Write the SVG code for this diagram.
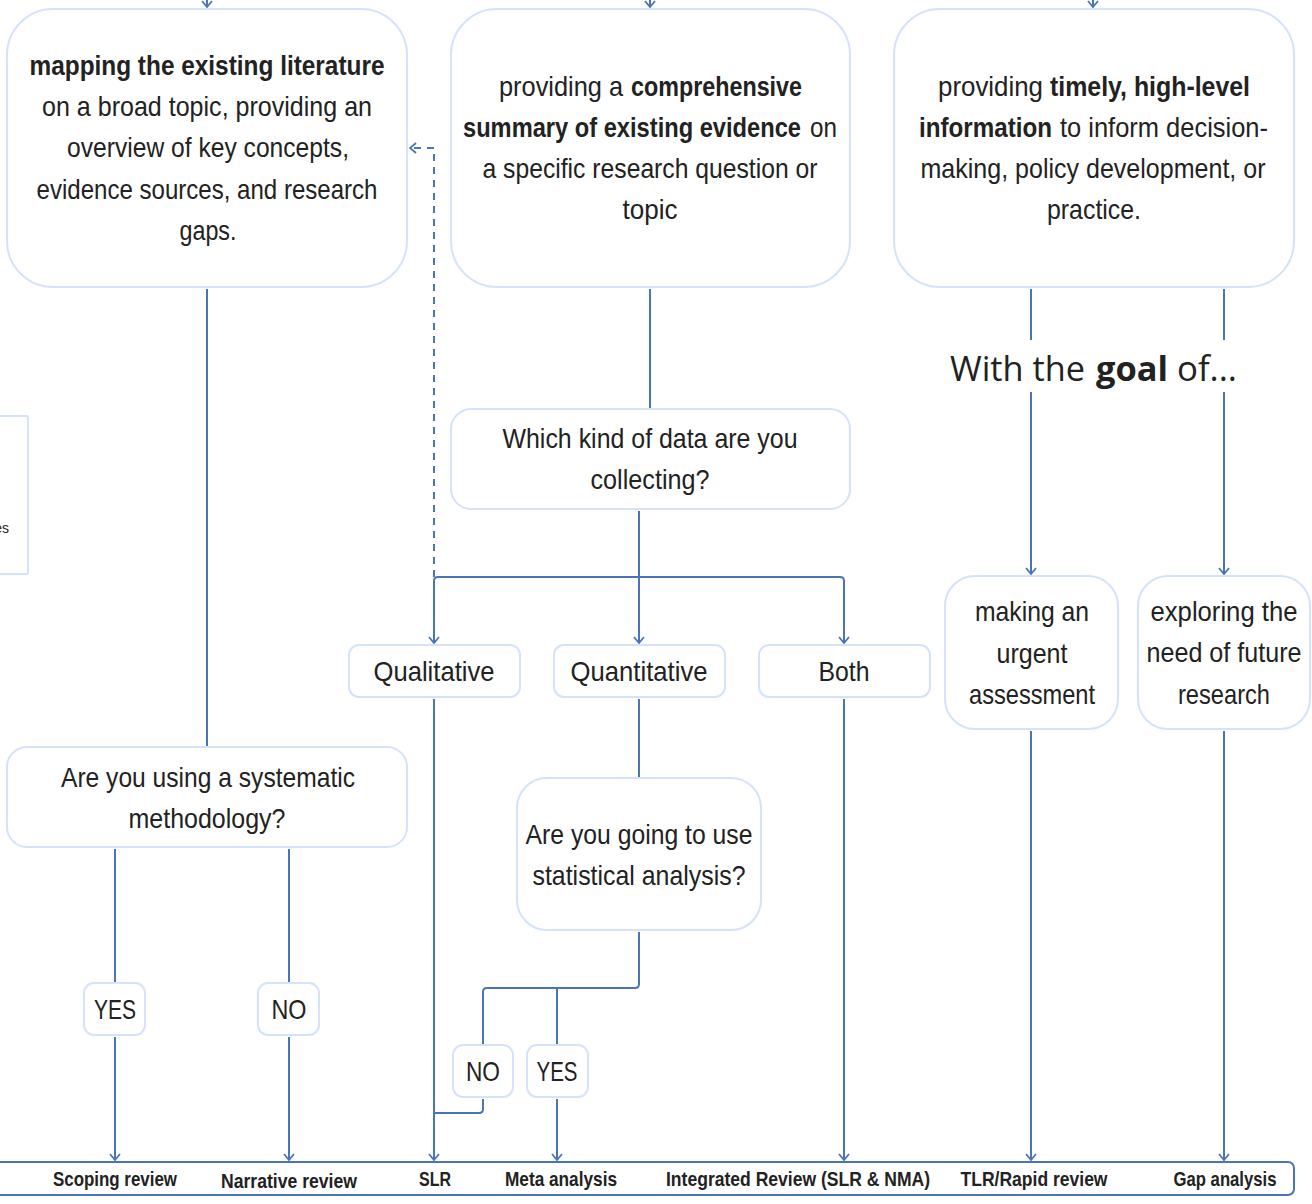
<svg xmlns="http://www.w3.org/2000/svg" width="1312" height="1204" viewBox="0 0 1312 1204">
<style>
.n{fill:#fff;stroke:#d5e2fb;stroke-width:2}
.t{font-family:"Liberation Sans",Arial,sans-serif;font-size:28px;fill:#222;text-anchor:middle}
.s{text-anchor:start}
.b{font-weight:bold}
.g{font-family:"Open Sans",sans-serif;font-size:34px;fill:#222}
.lb{font-family:"Liberation Sans",Arial,sans-serif;font-size:21px;font-weight:bold;fill:#222;text-anchor:middle}
.c{fill:none;stroke:#4a73b8;stroke-width:2}
.d{stroke-dasharray:7 6}
</style>
<defs>
<marker id="ar" viewBox="0 0 10 12" refX="9" refY="6" markerWidth="10" markerHeight="12" markerUnits="userSpaceOnUse" orient="auto">
<path d="M3,1 L9,6 L3,11" fill="none" stroke="#4a73b8" stroke-width="1.8"/>
</marker>
</defs>
<rect width="1312" height="1204" fill="#fff"/>
<g id="connectors">
<path class="c" d="M207,-5 V7" marker-end="url(#ar)"/>
<path class="c" d="M650,-5 V7" marker-end="url(#ar)"/>
<path class="c" d="M1093,-5 V7" marker-end="url(#ar)"/>
<path class="c" d="M207,289 V746"/>
<path class="c" d="M650,289 V408"/>
<path class="c" d="M1031,289 V340"/>
<path class="c" d="M1031,392 V574" marker-end="url(#ar)"/>
<path class="c" d="M1224,289 V340"/>
<path class="c" d="M1224,392 V574" marker-end="url(#ar)"/>
<path class="c" d="M639,511 V643" marker-end="url(#ar)"/>
<path class="c" d="M639,577 H438 Q434,577 434,581 V643" marker-end="url(#ar)"/>
<path class="c" d="M639,577 H840 Q844,577 844,581 V643" marker-end="url(#ar)"/>
<path class="c d" d="M434,577 V148 H410" marker-end="url(#ar)"/>
<path class="c" d="M434,699 V1160" marker-end="url(#ar)"/>
<path class="c" d="M639,699 V777"/>
<path class="c" d="M844,699 V1160" marker-end="url(#ar)"/>
<path class="c" d="M639,932 V984 Q639,988 635,988 H487 Q483,988 483,992 V1044"/>
<path class="c" d="M557,988 V1044"/>
<path class="c" d="M483,1099 V1109 Q483,1113 479,1113 H434"/>
<path class="c" d="M557,1099 V1160" marker-end="url(#ar)"/>
<path class="c" d="M115,849 V982"/>
<path class="c" d="M289,849 V982"/>
<path class="c" d="M115,1037 V1160" marker-end="url(#ar)"/>
<path class="c" d="M289,1037 V1160" marker-end="url(#ar)"/>
<path class="c" d="M1031,731 V1160" marker-end="url(#ar)"/>
<path class="c" d="M1224,731 V1160" marker-end="url(#ar)"/>
</g>
<g id="node-mapping">
<rect class="n" x="7" y="9" width="400" height="278" rx="46"/>
<text class="t b" x="207" y="75" textLength="355" lengthAdjust="spacingAndGlyphs">mapping the existing literature</text>
<text class="t" x="207" y="116" textLength="330" lengthAdjust="spacingAndGlyphs">on a broad topic, providing an</text>
<text class="t" x="208" y="157" textLength="282" lengthAdjust="spacingAndGlyphs">overview of key concepts,</text>
<text class="t" x="207" y="199" textLength="341" lengthAdjust="spacingAndGlyphs">evidence sources, and research</text>
<text class="t" x="208" y="240" textLength="57" lengthAdjust="spacingAndGlyphs">gaps.</text>
</g>
<g id="node-comprehensive">
<rect class="n" x="451" y="9" width="399" height="278" rx="46"/>
<text class="t s" x="499" y="96" textLength="124" lengthAdjust="spacingAndGlyphs">providing a</text>
<text class="t s b" x="631" y="96" textLength="171" lengthAdjust="spacingAndGlyphs">comprehensive</text>
<text class="t s b" x="463" y="137" textLength="338" lengthAdjust="spacingAndGlyphs">summary of existing evidence</text>
<text class="t s" x="810" y="137" textLength="27" lengthAdjust="spacingAndGlyphs">on</text>
<text class="t" x="650" y="178" textLength="335" lengthAdjust="spacingAndGlyphs">a specific research question or</text>
<text class="t" x="650" y="219" textLength="55" lengthAdjust="spacingAndGlyphs">topic</text>
</g>
<g id="node-timely">
<rect class="n" x="894" y="9" width="400" height="278" rx="46"/>
<text class="t s" x="938" y="96" textLength="105" lengthAdjust="spacingAndGlyphs">providing</text>
<text class="t s b" x="1050" y="96" textLength="200" lengthAdjust="spacingAndGlyphs">timely, high-level</text>
<text class="t s b" x="919" y="137" textLength="133" lengthAdjust="spacingAndGlyphs">information</text>
<text class="t s" x="1060" y="137" textLength="208" lengthAdjust="spacingAndGlyphs">to inform decision-</text>
<text class="t" x="1093" y="178" textLength="345" lengthAdjust="spacingAndGlyphs">making, policy development, or</text>
<text class="t" x="1094" y="219" textLength="94" lengthAdjust="spacingAndGlyphs">practice.</text>
</g>
<g id="node-partial">
<rect class="n" x="-220" y="416" width="248" height="158" rx="2"/>
<text x="9" y="533" style="font-family:'Liberation Sans',sans-serif;font-size:14px;fill:#222;text-anchor:end">es</text>
</g>
<g id="label-goal">
<text class="g" x="950" y="381" textLength="135" lengthAdjust="spacingAndGlyphs">With the</text>
<text class="g b" x="1096" y="381" textLength="72" lengthAdjust="spacingAndGlyphs">goal</text>
<text class="g" x="1177" y="381" textLength="60" lengthAdjust="spacingAndGlyphs">of...</text>
</g>
<g id="node-datakind">
<rect class="n" x="451" y="409" width="399" height="100" rx="20"/>
<text class="t" x="650" y="448" textLength="295" lengthAdjust="spacingAndGlyphs">Which kind of data are you</text>
<text class="t" x="650" y="489" textLength="119" lengthAdjust="spacingAndGlyphs">collecting?</text>
</g>
<g id="node-qualitative">
<rect class="n" x="349" y="645" width="171" height="52" rx="10"/>
<text class="t" x="434" y="681" textLength="121" lengthAdjust="spacingAndGlyphs">Qualitative</text>
</g>
<g id="node-quantitative">
<rect class="n" x="554" y="645" width="171" height="52" rx="10"/>
<text class="t" x="639" y="681" textLength="137" lengthAdjust="spacingAndGlyphs">Quantitative</text>
</g>
<g id="node-both">
<rect class="n" x="759" y="645" width="171" height="52" rx="10"/>
<text class="t" x="844" y="681" textLength="51" lengthAdjust="spacingAndGlyphs">Both</text>
</g>
<g id="node-systematic">
<rect class="n" x="7" y="747" width="400" height="100" rx="20"/>
<text class="t" x="208" y="787" textLength="294" lengthAdjust="spacingAndGlyphs">Are you using a systematic</text>
<text class="t" x="207" y="828" textLength="157" lengthAdjust="spacingAndGlyphs">methodology?</text>
</g>
<g id="node-statistical">
<rect class="n" x="517" y="778" width="244" height="152" rx="30"/>
<text class="t" x="639" y="844" textLength="227" lengthAdjust="spacingAndGlyphs">Are you going to use</text>
<text class="t" x="639" y="885" textLength="213" lengthAdjust="spacingAndGlyphs">statistical analysis?</text>
</g>
<g id="node-yes1">
<rect class="n" x="84" y="983" width="61" height="52" rx="10"/>
<text class="t" x="115" y="1019" textLength="42" lengthAdjust="spacingAndGlyphs">YES</text>
</g>
<g id="node-no1">
<rect class="n" x="258" y="983" width="61" height="52" rx="10"/>
<text class="t" x="289" y="1019" textLength="35" lengthAdjust="spacingAndGlyphs">NO</text>
</g>
<g id="node-no2">
<rect class="n" x="453" y="1045" width="60" height="52" rx="10"/>
<text class="t" x="483" y="1081" textLength="34" lengthAdjust="spacingAndGlyphs">NO</text>
</g>
<g id="node-yes2">
<rect class="n" x="527" y="1045" width="61" height="52" rx="10"/>
<text class="t" x="557" y="1081" textLength="41" lengthAdjust="spacingAndGlyphs">YES</text>
</g>
<g id="node-urgent">
<rect class="n" x="945" y="576" width="173" height="153" rx="30"/>
<text class="t" x="1032" y="621" textLength="114" lengthAdjust="spacingAndGlyphs">making an</text>
<text class="t" x="1032" y="663" textLength="71" lengthAdjust="spacingAndGlyphs">urgent</text>
<text class="t" x="1032" y="704" textLength="126" lengthAdjust="spacingAndGlyphs">assessment</text>
</g>
<g id="node-future">
<rect class="n" x="1138" y="576" width="172" height="153" rx="30"/>
<text class="t" x="1224" y="621" textLength="147" lengthAdjust="spacingAndGlyphs">exploring the</text>
<text class="t" x="1224" y="662" textLength="155" lengthAdjust="spacingAndGlyphs">need of future</text>
<text class="t" x="1224" y="704" textLength="92" lengthAdjust="spacingAndGlyphs">research</text>
</g>
<g id="node-outcomes">
<rect x="-10" y="1162" width="1304" height="33" rx="6" fill="#fff" stroke="#4a73b8" stroke-width="2"/>
<text class="lb" x="115" y="1186" textLength="124" lengthAdjust="spacingAndGlyphs">Scoping review</text>
<text class="lb" x="289" y="1188" textLength="136" lengthAdjust="spacingAndGlyphs">Narrative review</text>
<text class="lb" x="435" y="1186" textLength="32" lengthAdjust="spacingAndGlyphs">SLR</text>
<text class="lb" x="561" y="1186" textLength="112" lengthAdjust="spacingAndGlyphs">Meta analysis</text>
<text class="lb" x="798" y="1186" textLength="264" lengthAdjust="spacingAndGlyphs">Integrated Review (SLR &amp; NMA)</text>
<text class="lb" x="1034" y="1186" textLength="147" lengthAdjust="spacingAndGlyphs">TLR/Rapid review</text>
<text class="lb" x="1225" y="1186" textLength="103" lengthAdjust="spacingAndGlyphs">Gap analysis</text>
</g>
</svg>
